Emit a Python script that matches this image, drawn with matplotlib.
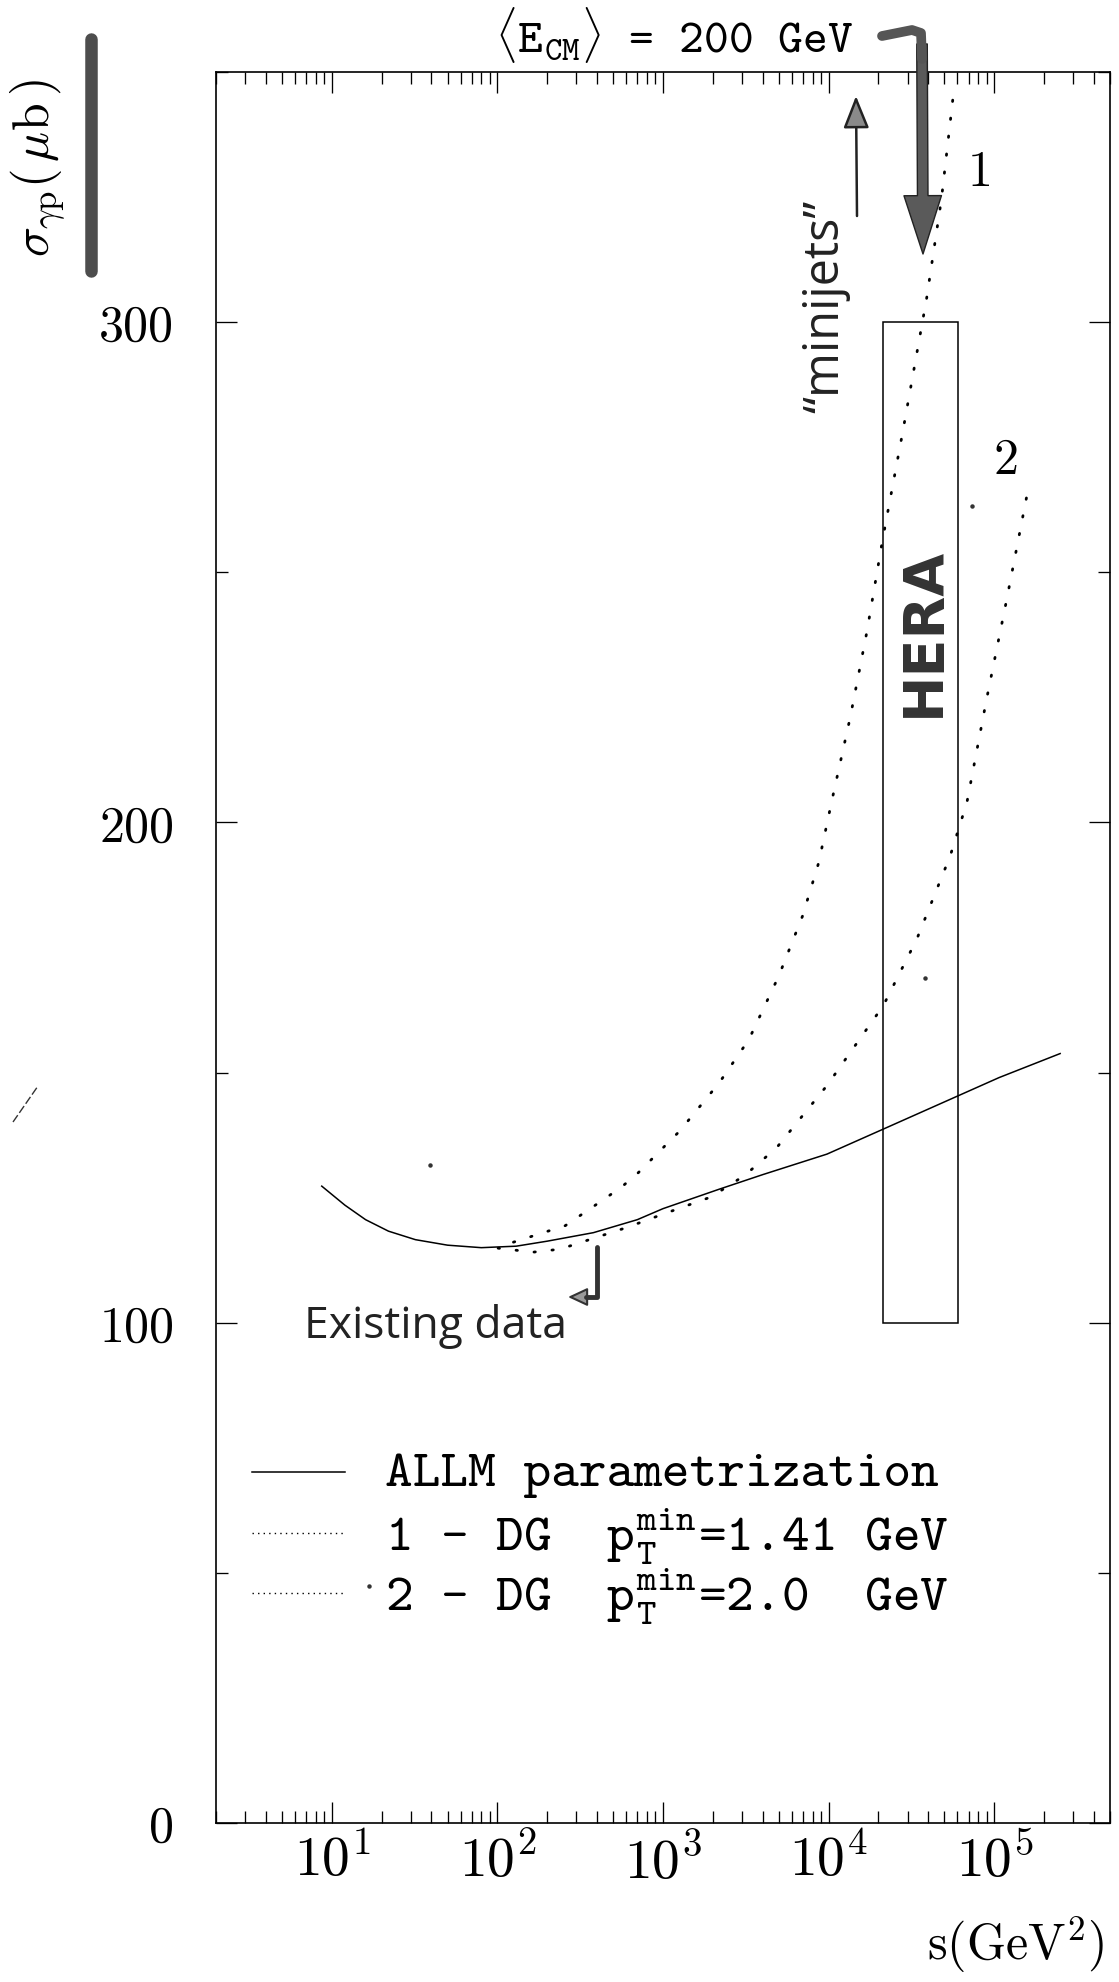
import numpy as np
import matplotlib
matplotlib.use('Agg')
import matplotlib.pyplot as plt
from matplotlib.lines import Line2D
from matplotlib.patches import Rectangle, FancyArrowPatch
from matplotlib.ticker import FixedLocator, FixedFormatter, LogLocator, MultipleLocator, NullFormatter

# ---------------- data ----------------
allm_s = [8.7, 12, 16, 22, 32, 50, 80, 130, 200, 380, 700, 1000, 2190, 4000, 9770, 20400, 60000, 107000, 250000]
allm_sigma = [127.3, 123.5, 120.6, 118.3, 116.6, 115.5, 115.0, 115.3, 116.3, 118.0, 120.6, 122.8, 126.7, 129.6, 133.7, 138.4, 145.3, 149.0, 153.8]

dg1_s = [125, 257, 455, 575, 710, 1260, 2190, 3300, 5000, 6960, 8720, 10500, 13500, 17000, 21200, 28000, 39000, 48000, 57000]
dg1_sigma = [116.1, 119.4, 125.0, 127.4, 130.0, 138.3, 148.0, 156.6, 169.3, 181.3, 192.0, 204.6, 221.0, 238.0, 256.6, 278.0, 304.6, 324.6, 346.3]

dg2_s = [101, 164, 239, 600, 1000, 1900, 2190, 3130, 4860, 9770, 21400, 34100, 54200, 68400, 90000, 119000, 158000]
dg2_sigma = [114.9, 114.1, 114.7, 119.0, 121.7, 125.0, 126.2, 129.5, 135.0, 147.4, 163.4, 176.7, 193.3, 204.0, 224.7, 244.6, 265.6]

hera_s = [2.14e4, 6.08e4]
hera_sigma = [100, 300]

xtick_values = [1e1, 1e2, 1e3, 1e4, 1e5]
xtick_labels = [r'$10^{1}$', r'$10^{2}$', r'$10^{3}$', r'$10^{4}$', r'$10^{5}$']
ytick_values = [0, 100, 200, 300]
ytick_labels = ['0', '100', '200', '300']

legend_labels = ['ALLM parametrization',
                 r'1 - DG  $\mathtt{p}_{\mathtt{T}}^{\mathtt{min}}$=1.41 GeV',
                 r'2 - DG  $\mathtt{p}_{\mathtt{T}}^{\mathtt{min}}$=2.0  GeV']

# ---------------- figure ----------------
W, H = 1119, 1983
plt.rcParams['mathtext.fontset'] = 'cm'
plt.rcParams['font.family'] = ['cmr10', 'DejaVu Serif']
plt.rcParams['axes.unicode_minus'] = False
plt.rcParams['axes.formatter.use_mathtext'] = True

fig = plt.figure(figsize=(W / 100, H / 100), dpi=100)
fig.patch.set_facecolor('white')

L, R, T, B = 216, 1110, 73, 1824
ax = fig.add_axes([L / W, 1 - B / H, (R - L) / W, (B - T) / H])
ax.set_xscale('log')
ax.set_xlim(2, 5e5)
ax.set_ylim(0, 350)

def fx(px):
    return px / W

def fy(py):
    return 1 - py / H

# curves
ax.plot(allm_s, allm_sigma, color='black', lw=1.1, solid_joinstyle='round')
ax.plot(dg1_s, dg1_sigma, color='black', lw=2.0, ls=(0, (0.5, 6.0)), dash_capstyle='round')
ax.plot(dg2_s, dg2_sigma, color='black', lw=2.0, ls=(0, (0.5, 6.0)), dash_capstyle='round')

# HERA box
ax.add_patch(Rectangle((hera_s[0], hera_sigma[0]), hera_s[1] - hera_s[0], hera_sigma[1] - hera_sigma[0],
                       fill=False, ec='black', lw=1.1))

# ticks
for sp in ax.spines.values():
    sp.set_linewidth(1.2)
ax.xaxis.set_major_locator(FixedLocator(xtick_values))
ax.xaxis.set_major_formatter(FixedFormatter(xtick_labels))
ax.xaxis.set_minor_locator(LogLocator(base=10, subs=np.arange(2, 10), numticks=30))
ax.xaxis.set_minor_formatter(NullFormatter())
ax.yaxis.set_major_locator(FixedLocator(ytick_values))
ax.yaxis.set_major_formatter(FixedFormatter(ytick_labels))
ax.yaxis.set_minor_locator(MultipleLocator(50))
ax.tick_params(which='both', direction='in', top=True, right=True, width=0.95)
ax.tick_params(which='major', length=15)
ax.tick_params(which='minor', length=8.6)
ax.tick_params(axis='x', which='major', labelsize=40, pad=7)
ax.tick_params(axis='y', which='major', labelsize=36, pad=30)

# curve labels
ax.text(8.22e4, 330, '1', fontsize=36, ha='center', va='center')
ax.text(1.18e5, 272.4, '2', fontsize=36, ha='center', va='center')

# HERA label (handwritten, bold)
ax.text(3.78e4, 238.3, 'HERA', rotation=90, ha='center', va='center', fontsize=40,
        fontweight='bold', family=['DejaVu Sans'], color='#333333')

# legend (drawn by hand)
leg_rows = [1473, 1534, 1594]
leg_styles = [dict(ls='-', lw=1.1), dict(ls=(0, (1, 3)), lw=1.0), dict(ls=(0, (1, 3)), lw=1.0)]
for yrow, lab, st in zip(leg_rows, legend_labels, leg_styles):
    fig.add_artist(Line2D([fx(252), fx(345)], [fy(yrow), fy(yrow)], color='black', **st))
    fig.text(fx(385), fy(yrow + 3), lab, fontsize=38, family=['cmtt10', 'DejaVu Sans Mono'],
             ha='left', va='center')

# title
fig.text(fx(674), fy(35), r'$\langle\mathtt{E}_{\mathtt{CM}}\rangle$ = 200 GeV', fontsize=34,
         family=['cmtt10', 'DejaVu Sans Mono'], ha='center', va='center')

# axis labels
fig.text(fx(38), fy(168), r'$\sigma_{\gamma\mathrm{p}}(\,\mu\mathrm{b}\,)$', rotation=90,
         ha='center', va='center', fontsize=36)
fig.text(fx(1105), fy(1945), r'$\mathrm{s}(\mathrm{GeV}^{2})$', ha='right', va='center', fontsize=36)

# thick hand-drawn bar beside the y label
fig.add_artist(Line2D([fx(91), fx(91)], [fy(40), fy(272)], color='#4d4d4d', lw=9,
                      solid_capstyle='round'))

# big gray arrow from the title
fig.add_artist(Line2D([fx(882), fx(912), fx(921), fx(922)], [fy(37), fy(31), fy(34), fy(60)],
                      color='#555555', lw=7, solid_capstyle='round', solid_joinstyle='round'))
fig.add_artist(FancyArrowPatch((fx(922), fy(45)), (fx(923), fy(255)), transform=fig.transFigure,
                               arrowstyle='simple,head_length=2.1,head_width=1.35,tail_width=0.38',
                               mutation_scale=20, fc='#5a5a5a', ec='#222222', lw=1.0,
                               shrinkA=0, shrinkB=0))

# thin upward arrow next to "minijets"
fig.add_artist(FancyArrowPatch((fx(857), fy(217)), (fx(856), fy(97)), transform=fig.transFigure,
                               arrowstyle='-|>,head_length=1.0,head_width=0.4',
                               mutation_scale=20, fc='#8a8a8a', ec='#222222', lw=1.8,
                               shrinkA=0, shrinkB=0))

# "minijets" (handwritten)
fig.text(fx(826), fy(306), '\u201cminijets\u201d', rotation=90, ha='center', va='center',
         fontsize=35, family=['Open Sans', 'DejaVu Sans'], color='#222222')

# "Existing data" (handwritten) and its arrow
fig.text(fx(436), fy(1327), 'Existing data', ha='center', va='center', fontsize=32,
         family=['Open Sans', 'DejaVu Sans'], color='#222222')
fig.add_artist(Line2D([fx(597), fx(597), fx(586)], [fy(1248), fy(1298), fy(1298)],
                      color='#333333', lw=3.5, solid_capstyle='round', solid_joinstyle='round'))
fig.add_artist(FancyArrowPatch((fx(592), fy(1298)), (fx(568), fy(1298)), transform=fig.transFigure,
                               arrowstyle='-|>,head_length=0.6,head_width=0.28',
                               mutation_scale=20, fc='#9a9a9a', ec='#333333', lw=1.5,
                               shrinkA=0, shrinkB=0))

# small scan marks
fig.add_artist(Line2D([fx(13), fx(38)], [fy(1123), fy(1087)], color='#333333', lw=1.0, ls=(0, (6, 2))))
for (mx, my) in [(430, 1166), (369, 1587), (972, 507), (925, 979)]:
    fig.add_artist(Line2D([fx(mx)], [fy(my)], marker='o', ms=2.2, color='#333333', ls='none'))

fig.savefig('out.png', dpi=100, facecolor='white')
